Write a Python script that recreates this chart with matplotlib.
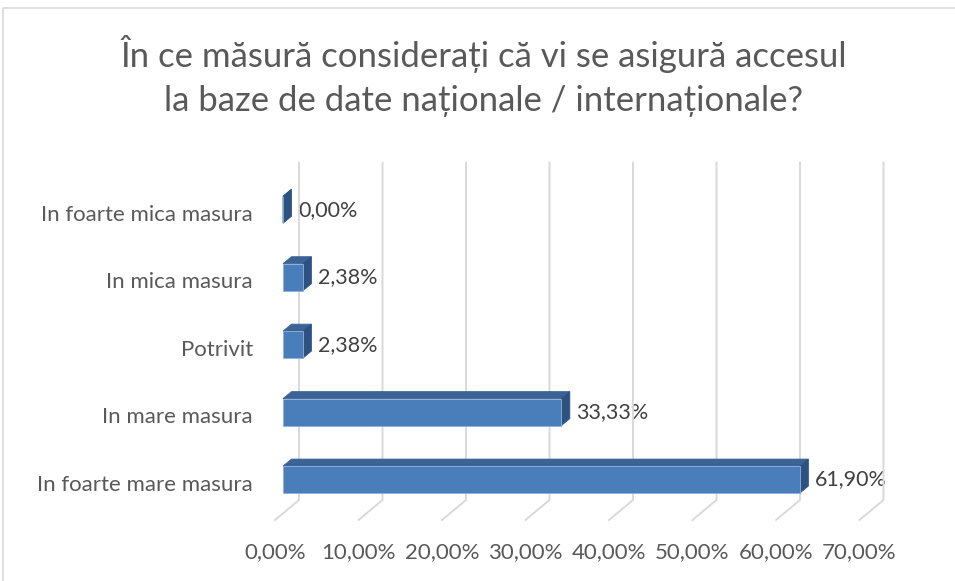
import numpy as np
import matplotlib
matplotlib.use("Agg")
import matplotlib.pyplot as plt
from matplotlib.patches import Polygon
from matplotlib.transforms import IdentityTransform
from matplotlib.lines import Line2D

# ---------------- data ----------------
categories = ["In foarte mare masura", "In mare masura", "Potrivit",
              "In mica masura", "In foarte mica masura"]
values = [61.90, 33.33, 2.38, 2.38, 0.00]
xticks = [0, 10, 20, 30, 40, 50, 60, 70]
title = "În ce măsură considerați că vi se asigură accesul\nla baze de date naționale / internaționale?"

FONT = ["Lato", "DejaVu Sans"]
plt.rcParams["font.family"] = FONT

W, H, DPI = 955, 581, 100
fig = plt.figure(figsize=(W / DPI, H / DPI), dpi=DPI)
fig.patch.set_facecolor("white")

# front plane of the bars (pixels)
left_px, right_px, top_px, bot_px = 283, 867.5, 176, 513.3
ax = fig.add_axes([left_px / W, 1 - bot_px / H, (right_px - left_px) / W, (bot_px - top_px) / H])
ax.set_xlim(0, 70)
ax.set_ylim(-0.5, len(categories) - 0.5)
ax.axis("off")

# depth offsets in pixels (display coords, y up)
BACK = np.array([16.0, 13.3])     # back wall relative to bar front face
DEPTH = np.array([8.5, 7.0])      # bar depth
FLOOR = np.array([-8.0, -6.7])    # front edge of floor relative to bar front face


def disp(x, y, off=(0, 0)):
    p = ax.transData.transform((x, y))
    return p + np.asarray(off)


grid_c = "#d9d9d9"
ymin, ymax = -0.5, len(categories) - 0.5
for v in xticks:
    a = disp(v, ymin, BACK)
    b = disp(v, ymax, BACK)
    c = disp(v, ymin, FLOOR)
    fig.add_artist(Line2D([b[0], a[0], c[0]], [b[1], a[1], c[1]], transform=IdentityTransform(),
                          color=grid_c, lw=1.4, solid_joinstyle="miter", zorder=1))

front_c, top_c, side_c = "#4a7ebb", "#3b6395", "#2d5282"
h = 0.4
for i, v in enumerate(values):
    y0, y1 = i - h / 2, i + h / 2
    top = [disp(0, y1), disp(v, y1), disp(v, y1, DEPTH), disp(0, y1, DEPTH)]
    side = [disp(v, y0), disp(v, y1), disp(v, y1, DEPTH), disp(v, y0, DEPTH)]
    front = [disp(0, y0), disp(v, y0), disp(v, y1), disp(0, y1)]
    for pts, col, z in ((top, top_c, 3), (side, side_c, 3), (front, front_c, 4)):
        fig.add_artist(Polygon(pts, closed=True, transform=IdentityTransform(),
                               facecolor=col, edgecolor=col if col != front_c else "#8fb0db",
                               lw=0.6, zorder=z))
    lab = f"{v:.2f}%".replace(".", ",")
    ax.annotate(lab, xy=(v, i), xytext=(15, 0), textcoords="offset pixels",
                ha="left", va="center", fontsize=15.5, color="#404040",
                annotation_clip=False, zorder=6)

# category labels
for i, cat in enumerate(categories):
    p = disp(0, i)
    fig.text((p[0] - 30) / W, (p[1] - 5) / H, cat, ha="right", va="center",
             fontsize=16, color="#595959")

# x tick labels (front edge of floor)
for v in xticks:
    p = disp(v, ymin, FLOOR)
    fig.text(p[0] / W, (p[1] - 32) / H, f"{v:.2f}%".replace(".", ","), ha="center",
             va="center", fontsize=16, color="#595959")

# title
fig.text(484 / W, 1 - 76 / H, title, ha="center", va="center", fontsize=25,
         color="#595959", linespacing=1.45)

# chart border
fig.add_artist(Line2D([3 / W, 3 / W, 1.0], [0.0, 1 - 8 / H, 1 - 8 / H], transform=fig.transFigure,
                      color="#d9d9d9", lw=1.2))

fig.savefig("out.png", dpi=DPI)
